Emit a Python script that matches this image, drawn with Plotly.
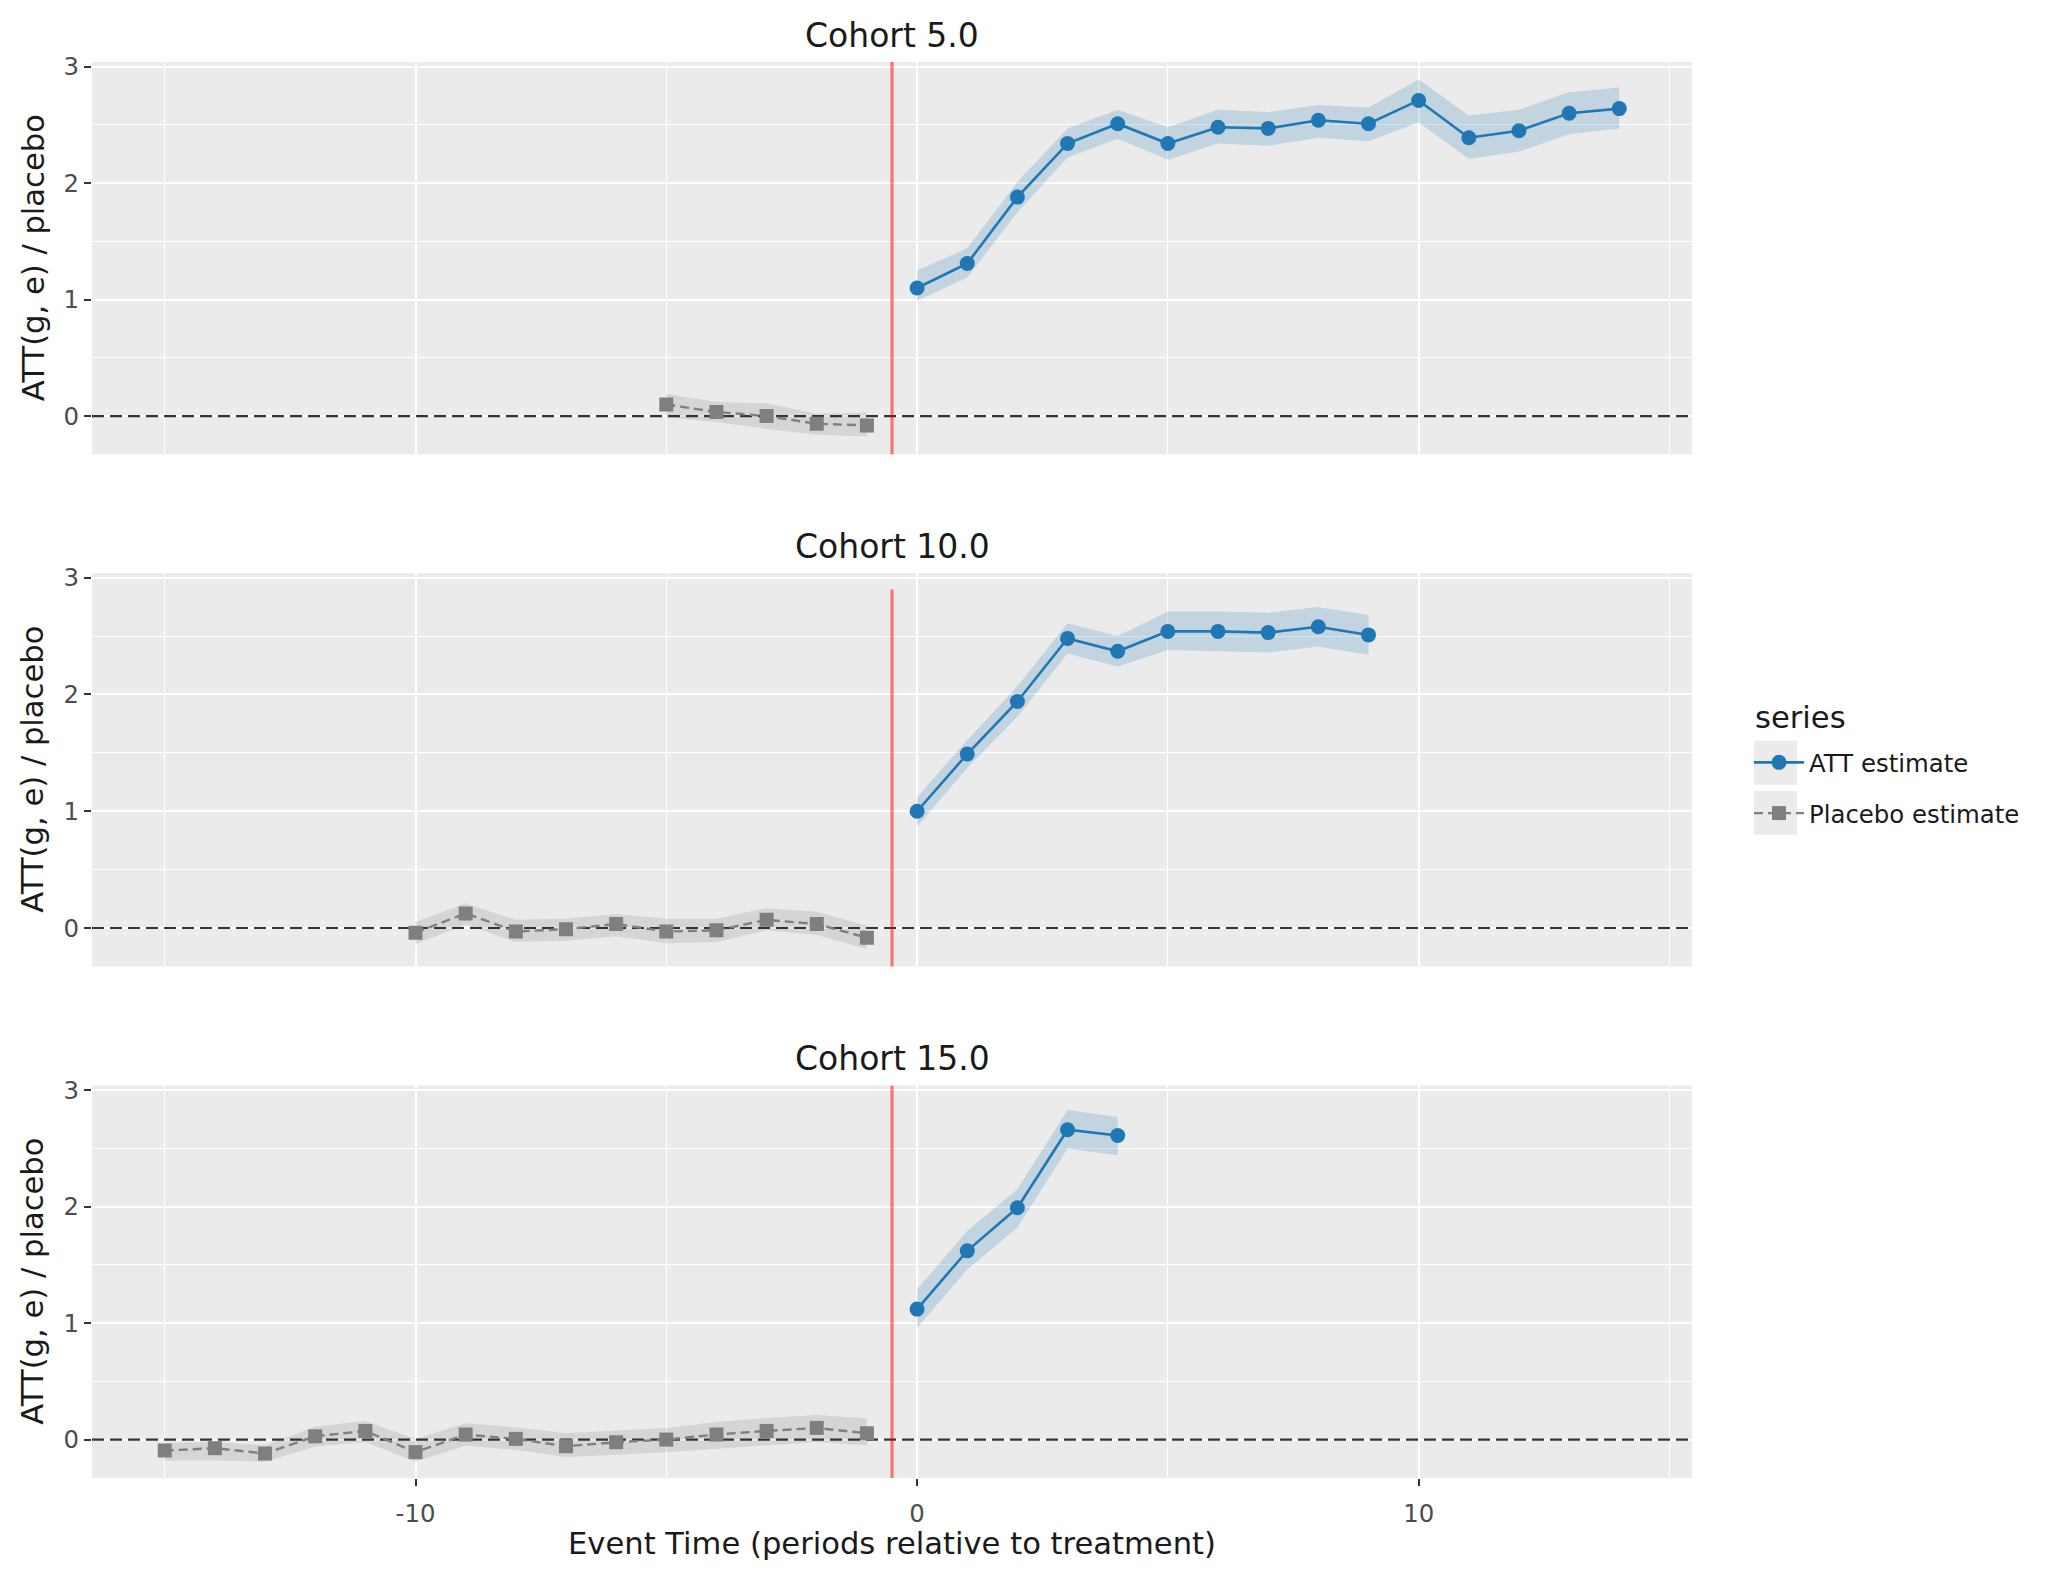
import plotly.graph_objects as go

# ---------------- data ----------------
cohorts = ["Cohort 5.0", "Cohort 10.0", "Cohort 15.0"]

e_att5 = list(range(0, 15))
att5 = [1.10, 1.31, 1.88, 2.34, 2.51, 2.34, 2.48, 2.47, 2.54, 2.51, 2.71, 2.39, 2.45, 2.60, 2.64]
att5_lo = [0.99, 1.19, 1.75, 2.22, 2.38, 2.20, 2.34, 2.32, 2.39, 2.36, 2.52, 2.21, 2.27, 2.42, 2.47]
att5_hi = [1.25, 1.44, 2.01, 2.47, 2.63, 2.48, 2.63, 2.61, 2.67, 2.65, 2.89, 2.58, 2.63, 2.78, 2.82]
e_pl5 = [-5, -4, -3, -2, -1]
pl5 = [0.10, 0.035, 0.0, -0.066, -0.08]
pl5_lo = [-0.01, -0.05, -0.11, -0.16, -0.175]
pl5_hi = [0.19, 0.12, 0.11, 0.02, 0.03]

e_att10 = list(range(0, 10))
att10 = [1.00, 1.49, 1.94, 2.48, 2.37, 2.54, 2.54, 2.53, 2.58, 2.51]
att10_lo = [0.87, 1.37, 1.81, 2.35, 2.24, 2.38, 2.37, 2.36, 2.41, 2.34]
att10_hi = [1.12, 1.61, 2.07, 2.61, 2.50, 2.71, 2.71, 2.70, 2.75, 2.68]
e_pl10 = list(range(-10, 0))
pl10 = [-0.04, 0.125, -0.03, -0.01, 0.034, -0.03, -0.02, 0.07, 0.034, -0.083]
pl10_lo = [-0.14, 0.03, -0.12, -0.11, -0.07, -0.13, -0.12, -0.02, -0.06, -0.18]
pl10_hi = [0.054, 0.21, 0.07, 0.08, 0.12, 0.08, 0.08, 0.17, 0.14, 0.02]

e_att15 = list(range(0, 5))
att15 = [1.12, 1.62, 1.99, 2.66, 2.61]
att15_lo = [0.96, 1.46, 1.82, 2.50, 2.44]
att15_hi = [1.29, 1.79, 2.15, 2.83, 2.77]
e_pl15 = list(range(-15, 0))
pl15 = [-0.094, -0.074, -0.12, 0.028, 0.074, -0.108, 0.043, 0.006, -0.057, -0.023, 0.0, 0.043, 0.074, 0.10, 0.054]
pl15_lo = [-0.18, -0.18, -0.19, -0.06, -0.02, -0.19, -0.05, -0.09, -0.15, -0.13, -0.11, -0.08, -0.05, -0.02, -0.05]
pl15_hi = [-0.03, -0.02, -0.05, 0.11, 0.16, 0.005, 0.14, 0.105, 0.054, 0.077, 0.10, 0.15, 0.185, 0.21, 0.18]

x_ticks = [-10, 0, 10]
y_ticks = [0, 1, 2, 3]
treat_line = -0.5
zero_ref = 0
x_range = [-16.45, 15.45]
y_range = [-0.33, 3.04]

panels = [
    (e_att5, att5, att5_lo, att5_hi, e_pl5, pl5, pl5_lo, pl5_hi),
    (e_att10, att10, att10_lo, att10_hi, e_pl10, pl10, pl10_lo, pl10_hi),
    (e_att15, att15, att15_lo, att15_hi, e_pl15, pl15, pl15_lo, pl15_hi),
]

# ---------------- style ----------------
FONT = "DejaVu Sans"
BLUE = "#1f77b4"
GREY = "#7f7f7f"
BLUE_BAND = "rgba(31,119,180,0.2)"
GREY_BAND = "rgba(127,127,127,0.2)"
RED = "rgba(255,0,0,0.5)"
domains = [[0.7228, 1.0], [0.3612, 0.6391], [0.0, 0.2772]]

fig = go.Figure()

for i, (ea, a, alo, ahi, ep, p, plo, phi) in enumerate(panels):
    xa = "x" if i == 0 else f"x{i+1}"
    ya = "y" if i == 0 else f"y{i+1}"
    fig.add_trace(go.Scatter(x=ep + ep[::-1], y=phi + plo[::-1], fill="toself",
                             fillcolor=GREY_BAND, line=dict(width=0), mode="lines",
                             hoverinfo="skip", showlegend=False, xaxis=xa, yaxis=ya))
    fig.add_trace(go.Scatter(x=ea + ea[::-1], y=ahi + alo[::-1], fill="toself",
                             fillcolor=BLUE_BAND, line=dict(width=0), mode="lines",
                             hoverinfo="skip", showlegend=False, xaxis=xa, yaxis=ya))
    # zero reference line (under the estimate markers)
    fig.add_trace(go.Scatter(x=x_range, y=[zero_ref, zero_ref], mode="lines",
                             line=dict(color="#333333", width=2.2, dash="12px,6px"),
                             hoverinfo="skip", showlegend=False, xaxis=xa, yaxis=ya))
    fig.add_trace(go.Scatter(x=ep, y=p, mode="lines+markers", name="Placebo estimate",
                             line=dict(color=GREY, width=2.4, dash="9px,5px"),
                             marker=dict(symbol="square", size=14, color=GREY),
                             legendgroup="placebo", legendrank=2, showlegend=(i == 0),
                             xaxis=xa, yaxis=ya))
    fig.add_trace(go.Scatter(x=ea, y=a, mode="lines+markers", name="ATT estimate",
                             line=dict(color=BLUE, width=2.6),
                             marker=dict(symbol="circle", size=15, color=BLUE),
                             legendgroup="att", legendrank=1, showlegend=(i == 0),
                             xaxis=xa, yaxis=ya))

shapes = []
annotations = []
for i in range(3):
    xa = "x" if i == 0 else f"x{i+1}"
    ya = "y" if i == 0 else f"y{i+1}"
    y_top = 2.9 if i == 1 else y_range[1]
    shapes.append(dict(type="line", xref=xa, yref=ya, x0=treat_line, x1=treat_line,
                       y0=y_range[0], y1=y_top, line=dict(color=RED, width=3.2), layer="above"))
    annotations.append(dict(text=cohorts[i], xref="paper", yref="paper", x=0.5, y=domains[i][1],
                            xanchor="center", yanchor="bottom", yshift=5, showarrow=False,
                            font=dict(family=FONT, size=33, color="#1a1a1a")))
    annotations.append(dict(text="ATT(g, e) / placebo", xref="paper", yref="paper",
                            x=(33 - 92) / 1600, y=(domains[i][0] + domains[i][1]) / 2,
                            xanchor="center", yanchor="middle", textangle=-90, showarrow=False,
                            font=dict(family=FONT, size=30.6, color="#1a1a1a")))

annotations.append(dict(text="Event Time (periods relative to treatment)", xref="paper", yref="paper",
                        x=0.5, y=0, yshift=-46, xanchor="center", yanchor="top", showarrow=False,
                        font=dict(family=FONT, size=30.6, color="#1a1a1a")))
# legend title
annotations.append(dict(text="series", xref="paper", yref="paper",
                        x=(1753 - 92) / 1600, y=(1478 - 718) / 1416, xanchor="left", yanchor="middle",
                        showarrow=False, font=dict(family=FONT, size=30.6, color="#1a1a1a")))

# legend key backgrounds
for yc in [762.7, 812.7]:
    shapes.append(dict(type="rect", xref="paper", yref="paper",
                       x0=(1754 - 92) / 1600, x1=(1797 - 92) / 1600,
                       y0=(1478 - (yc + 22)) / 1416, y1=(1478 - (yc - 22)) / 1416,
                       fillcolor="#ebebeb", line=dict(width=0), layer="below"))

layout = dict(
    width=2062, height=1580,
    margin=dict(l=92, r=370, t=62, b=102),
    paper_bgcolor="white", plot_bgcolor="#ebebeb",
    font=dict(family=FONT, size=24.4, color="#4d4d4d"),
    shapes=shapes, annotations=annotations,
    legend=dict(font=dict(family=FONT, size=24.4, color="#1a1a1a"),
                x=(1749 - 92) / 1600, xanchor="left", y=(1478 - 740) / 1416, yanchor="top",
                traceorder="grouped", tracegroupgap=16, itemwidth=50, bgcolor="rgba(0,0,0,0)"),
    showlegend=True,
)

for i in range(3):
    xk = "xaxis" if i == 0 else f"xaxis{i+1}"
    yk = "yaxis" if i == 0 else f"yaxis{i+1}"
    ya = "y" if i == 0 else f"y{i+1}"
    xa = "x" if i == 0 else f"x{i+1}"
    layout[xk] = dict(domain=[0, 1], anchor=ya, range=x_range, tickmode="array", tickvals=x_ticks,
                      ticktext=[str(v) for v in x_ticks],
                      showticklabels=(i == 2), ticks="outside" if i == 2 else "", ticklen=7, tickwidth=2.2,
                      tickcolor="#333333", showgrid=True, gridcolor="white", gridwidth=2.4, zeroline=False,
                      showline=False, ticklabelstandoff=7,
                      tickfont=dict(family=FONT, size=24.4, color="#4d4d4d"),
                      minor=dict(tickmode="array", tickvals=[-15, -5, 5, 15], showgrid=True,
                                 gridcolor="white", gridwidth=1.2, ticks=""))
    if i < 2:
        layout[xk]["matches"] = "x3"
    layout[yk] = dict(domain=domains[i], anchor=xa, range=y_range, tickmode="array", tickvals=y_ticks,
                      ticks="outside", ticklen=7, tickwidth=2.2, tickcolor="#333333",
                      showgrid=True, gridcolor="white", gridwidth=2.4, zeroline=False, showline=False,
                      tickfont=dict(family=FONT, size=24.4, color="#4d4d4d"),
                      minor=dict(tickmode="array", tickvals=[0.5, 1.5, 2.5], showgrid=True,
                                 gridcolor="white", gridwidth=1.2, ticks=""))

fig.update_layout(**layout)
fig.write_html("out.html")
